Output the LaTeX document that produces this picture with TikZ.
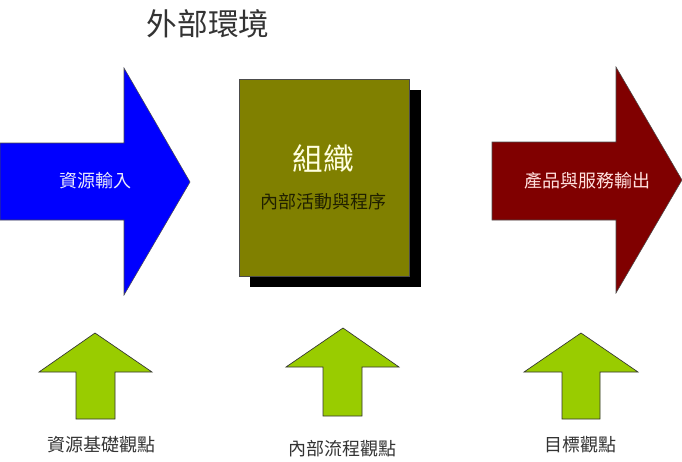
\documentclass[tikz,border=0pt]{standalone}
\usepackage{fontspec}
\setmainfont{Noto Sans CJK TC}
\usepackage[svgnames]{xcolor}
\usepackage{tikz}
\definecolor{olivebox}{HTML}{808000}
\definecolor{outred}{HTML}{800000}
\definecolor{viewgreen}{HTML}{99CC00}
\tikzset{
    bigarrow/.style={draw=black!70, line width=0.4pt},
    viewarrow/.style={draw=black!80, fill=viewgreen, line width=0.5pt},
    viewlabel/.style={font=\fontsize{13.5}{14}\selectfont, text=black!80},
}

\begin{document}
\begin{tikzpicture}[x=0.75pt, y=-0.75pt]
            \useasboundingbox (0,0) rectangle (682,461);
            \node[font=\fontsize{23}{26}\selectfont, text=black!80] (env) at (208,24) {外部環境}; % title
            \draw[bigarrow, fill=blue] (0,143) -- (124,143) -- (124,68) -- (190,182) -- (124,295) -- (124,220) -- (0,220) -- cycle; % input arrow
            \node[font=\fontsize{13.5}{14}\selectfont, text=Lavender!80!white] (input) at (95,181) {資源輸入};
            \fill[black] (250,90) rectangle (421,287); % shadow
            \draw[fill=olivebox, draw=black!70] (239,79) rectangle (409,276); % organisation box
            \node[font=\fontsize{23}{26}\selectfont, text=LightYellow] (org) at (323,159) {組織};
            \node[font=\fontsize{13.5}{14}\selectfont, text=black!75!olivebox] (inner) at (323,202) {內部活動與程序};
            \draw[bigarrow, fill=outred] (492,142) -- (616,142) -- (616,67) -- (682,180) -- (616,293) -- (616,220) -- (492,220) -- cycle; % output arrow
            \node[font=\fontsize{13.5}{14}\selectfont, text=MistyRose!90!pink] (output) at (587,181) {產品與服務輸出};
            \draw[viewarrow] (95,333) -- (152,372) -- (115,372) -- (115,419) -- (76,419) -- (76,372) -- (39,372) -- cycle; % resource view
            \draw[viewarrow] (343,328) -- (399,367) -- (362,367) -- (362,416) -- (323,416) -- (323,367) -- (286,367) -- cycle; % process view
            \draw[viewarrow] (581,333) -- (638,372) -- (600,372) -- (600,419) -- (562,419) -- (562,372) -- (524,372) -- cycle; % goal view
            \node[viewlabel] (resview) at (101,445) {資源基礎觀點};
            \node[viewlabel] (procview) at (342,449) {內部流程觀點};
            \node[viewlabel] (goalview) at (580,445) {目標觀點};
        \end{tikzpicture}
\end{document}
